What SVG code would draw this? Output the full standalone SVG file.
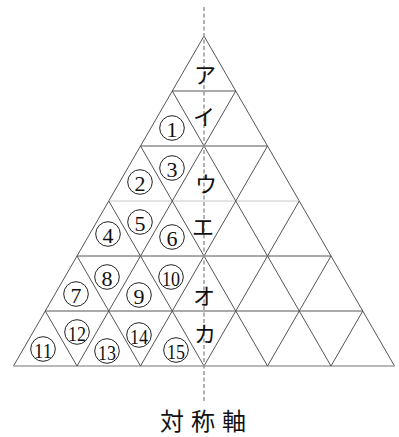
<svg xmlns="http://www.w3.org/2000/svg" width="399" height="437" viewBox="0 0 399 437">
<style>
.ln{stroke:#555;stroke-width:1;fill:none}
.lt{stroke:#c8c8c8;stroke-width:1;fill:none}
.ax{stroke:#999;stroke-width:1.5;stroke-dasharray:4 2.5;fill:none}
.kt{font-family:"Noto Sans CJK JP",sans-serif;font-size:22px;fill:#111;text-anchor:middle;dominant-baseline:central}
.cc{fill:none;stroke:#222;stroke-width:1}
.cn{font-family:"Liberation Serif",serif;font-size:22px;fill:#111;text-anchor:middle;dominant-baseline:central}
.tt{font-family:"Noto Sans CJK JP",sans-serif;font-size:24px;fill:#111;letter-spacing:7px}
</style>
<defs>
<circle id="c" r="12.3" class="cc"/>
</defs>
<rect width="399" height="437" fill="#fff"/>
<g id="connectors">
<polygon class="ln" points="204,36 13.5,366 394.5,366"/>
<line class="ln" x1="172.25" y1="91" x2="235.75" y2="91"/>
<line class="ln" x1="140.5" y1="146" x2="267.5" y2="146"/>
<line class="lt" x1="108.75" y1="201" x2="299.25" y2="201"/>
<line class="ln" x1="77" y1="256" x2="331" y2="256"/>
<line class="ln" x1="45.25" y1="311" x2="362.75" y2="311"/>
<line class="lt" x1="13.5" y1="366" x2="394.5" y2="366"/>
<line class="ln" x1="235.75" y1="91" x2="77" y2="366"/>
<line class="ln" x1="267.5" y1="146" x2="140.5" y2="366"/>
<line class="ln" x1="299.25" y1="201" x2="204" y2="366"/>
<line class="ln" x1="331" y1="256" x2="267.5" y2="366"/>
<line class="ln" x1="362.75" y1="311" x2="331" y2="366"/>
<line class="ln" x1="172.25" y1="91" x2="331" y2="366"/>
<line class="ln" x1="140.5" y1="146" x2="267.5" y2="366"/>
<line class="ln" x1="108.75" y1="201" x2="204" y2="366"/>
<line class="ln" x1="77" y1="256" x2="140.5" y2="366"/>
<line class="ln" x1="45.25" y1="311" x2="77" y2="366"/>
<line class="ax" x1="204" y1="7" x2="204" y2="403"/>
</g>
<g id="katakana">
<text class="kt" x="205" y="73">ア</text>
<text class="kt" x="204" y="115">イ</text>
<text class="kt" x="206" y="182">ウ</text>
<text class="kt" x="203" y="225">エ</text>
<text class="kt" x="204" y="294">オ</text>
<text class="kt" x="205" y="332">カ</text>
</g>
<g id="numbers">
<g id="n1"><use href="#c" x="172" y="128"/><text class="cn" x="172" y="129">1</text></g>
<g id="n2"><use href="#c" x="140" y="182"/><text class="cn" x="140" y="183">2</text></g>
<g id="n3"><use href="#c" x="172" y="168"/><text class="cn" x="172" y="169">3</text></g>
<g id="n4"><use href="#c" x="108" y="234"/><text class="cn" x="108" y="235">4</text></g>
<g id="n5"><use href="#c" x="140" y="222"/><text class="cn" x="140" y="223">5</text></g>
<g id="n6"><use href="#c" x="172" y="237"/><text class="cn" x="172" y="238">6</text></g>
<g id="n7"><use href="#c" x="76" y="294"/><text class="cn" x="76" y="295">7</text></g>
<g id="n8"><use href="#c" x="107" y="277"/><text class="cn" x="107" y="278">8</text></g>
<g id="n9"><use href="#c" x="139" y="295"/><text class="cn" x="139" y="296">9</text></g>
<g id="n10"><use href="#c" x="171" y="277"/><text class="cn" x="171" y="278" textLength="18" lengthAdjust="spacingAndGlyphs">10</text></g>
<g id="n11"><use href="#c" x="43" y="349"/><text class="cn" x="43" y="350" textLength="18" lengthAdjust="spacingAndGlyphs">11</text></g>
<g id="n12"><use href="#c" x="77" y="332"/><text class="cn" x="77" y="333" textLength="18" lengthAdjust="spacingAndGlyphs">12</text></g>
<g id="n13"><use href="#c" x="107" y="351"/><text class="cn" x="107" y="352" textLength="18" lengthAdjust="spacingAndGlyphs">13</text></g>
<g id="n14"><use href="#c" x="139" y="335"/><text class="cn" x="139" y="336" textLength="18" lengthAdjust="spacingAndGlyphs">14</text></g>
<g id="n15"><use href="#c" x="176" y="350"/><text class="cn" x="176" y="351" textLength="18" lengthAdjust="spacingAndGlyphs">15</text></g>
</g>
<g id="title">
<text class="tt" x="160" y="430">対称軸</text>
</g>
</svg>
